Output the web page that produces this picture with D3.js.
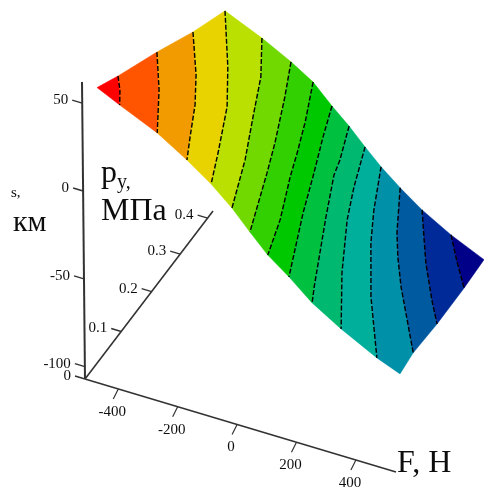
<!DOCTYPE html>
<html>
<head>
<meta charset="utf-8">
<style>
body { margin: 0; background: #fff; }
svg { display: block; }
text { font-family: "Liberation Serif", serif; fill: #111; }
</style>
</head>
<body>
<svg width="484" height="489"></svg>
<script src="https://cdn.jsdelivr.net/npm/d3@7"></script>
<script>
// contour levels of the surface, and where each one runs in (F, p)
var levels = [50, 40, 30, 20, 10, 0, -10, -20, -30, -40, -50, -60, -70, -80];
var contourF = [
  [-498, -459, -425],
  [-495, -396, -304],
  [-490, -370, -302, -245, -205],
  [-500, -339, -246, -171, -127],
  [-354, -257, -187, -117, -58],
  [-243, -176, -103, -63, 3],
  [-164, -95, -52, -23, 32, 62],
  [-86, -44, 10, 52, 128],
  [-23, 22, 35, 94, 186, 207],
  [38, 87, 131, 212, 302],
  [97, 162, 215, 309, 421],
  [169, 247, 294, 355, 494],
  [253, 364, 445, 498],
  [367, 435, 502]
];
var contourP = [
  [0.067, 0.035, 0],
  [0.192, 0.104, 0.003],
  [0.306, 0.205, 0.134, 0.057, 0.002],
  [0.42, 0.285, 0.191, 0.079, 0.004],
  [0.417, 0.323, 0.225, 0.121, 0.004],
  [0.418, 0.331, 0.219, 0.145, 0.002],
  [0.424, 0.326, 0.25, 0.191, 0.088, 0.002],
  [0.419, 0.342, 0.244, 0.157, 0.007],
  [0.422, 0.339, 0.301, 0.202, 0.04, 0.004],
  [0.423, 0.325, 0.247, 0.127, 0.005],
  [0.426, 0.324, 0.249, 0.131, 0.004],
  [0.428, 0.325, 0.272, 0.209, 0.075],
  [0.429, 0.313, 0.236, 0.188],
  [0.427, 0.371, 0.318]
];
// surface corners that are not on a contour, by the band they belong to
var cornerBand = [0, 11, 14];
var cornerF = [-500, 500, 500];
var cornerP = [0, 0, 0.42];
var cornerZ = [56, -54, -88];
var bandColors = ['#ff0000', '#ff5500', '#f29b00', '#e8d200', '#b9e000', '#72d900', '#30d000', '#00c800',
  '#00c040', '#00b870', '#00ae9c', '#0090a8', '#005aa0', '#002a98', '#000088'];

var zTicks = [50, 0, -50, -100];
var pTicks = [0, 0.1, 0.2, 0.3, 0.4];
var fTicks = [-400, -200, 0, 200, 400];

var root = d3.select('svg');
// the picture is a slightly soft scan
root.append('filter').attr('id', 'soft')
  .append('feGaussianBlur').attr('stdDeviation', 0.35);
var svg = root.append('g').attr('filter', 'url(#soft)');

// axes scales, each axis is a slanted line so x and y get a scale
var zY = d3.scaleLinear().domain([-107, 62]).range([379, 82]);
var zX = d3.scaleLinear().domain([-107, 62]).range([85, 82]);
var pX = d3.scalePow().exponent(0.88).domain([0, 0.42]).range([85, 213]);
var pY = d3.scalePow().exponent(0.88).domain([0, 0.42]).range([379, 211]);
var fX = d3.scaleLinear().domain([-512, 535]).range([85, 396]);
var fY = d3.scaleLinear().domain([-512, 535]).range([379, 472]);

// surface projection, bilinear between the four corners of the (F, p) sheet
var u = d3.scaleLinear().domain([-500, 500]).range([0, 1]);
var v = d3.scaleLinear().domain([0, 0.42]).range([0, 1]);
function bl(a, b, c, d, s, t) {
  return a * (1 - s) * (1 - t) + b * s * (1 - t) + c * (1 - s) * t + d * s * t;
}
function project(F, p, z) {
  var s = u(F), t = v(p);
  return [bl(97, 400, 225, 484, s, t), bl(186, 279, 46, 105, s, t) + zY(z) - zY(0)];
}

var contours = levels.map(function(z, i) {
  return contourF[i].map(function(F, j) { return project(F, contourP[i][j], z); });
});

var line = d3.line();
var bands = bandColors.map(function(col, i) {
  var pts = [];
  if (i > 0) pts = pts.concat(contours[i - 1]);
  cornerBand.forEach(function(b, k) {
    if (b === i) pts.push(project(cornerF[k], cornerP[k], cornerZ[k]));
  });
  if (i < contours.length) pts = pts.concat(contours[i].slice().reverse());
  return pts;
});

svg.selectAll('path.band').data(bands).enter().append('path')
  .attr('class', 'band')
  .attr('d', function(d) { return line(d) + 'Z'; })
  .attr('fill', function(d, i) { return bandColors[i]; })
  .attr('stroke', function(d, i) { return bandColors[i]; })
  .attr('stroke-width', 0.5);

svg.selectAll('path.contour').data(contours).enter().append('path')
  .attr('class', 'contour')
  .attr('d', line)
  .attr('fill', 'none')
  .attr('stroke', '#000')
  .attr('stroke-width', 1.4)
  .attr('stroke-dasharray', '5 2');

// axis lines
function axisLine(x1, y1, x2, y2, w) {
  svg.append('line').attr('x1', x1).attr('y1', y1).attr('x2', x2).attr('y2', y2)
    .attr('stroke', '#333').attr('stroke-width', w);
}
axisLine(zX(-107), zY(-107), zX(62), zY(62), 2);
axisLine(pX(0), pY(0), pX(0.42), pY(0.42), 1.6);
axisLine(fX(-512), fY(-512), fX(535), fY(535), 1.6);

function tickLabel(x, y, txt, anchor) {
  svg.append('text').attr('x', x).attr('y', y).attr('text-anchor', anchor)
    .attr('dominant-baseline', 'central').attr('font-size', 15).text(txt);
}
zTicks.forEach(function(t) {
  axisLine(zX(t), zY(t), zX(t) - 10, zY(t) - 3, 1.4);
  tickLabel(zX(t) - 14, zY(t) - 4, t, 'end');
});
pTicks.forEach(function(t) {
  axisLine(pX(t), pY(t), pX(t) - 10, pY(t) - 3, 1.4);
  tickLabel(pX(t) - 14, pY(t) - 4, t, 'end');
});
fTicks.forEach(function(t) {
  axisLine(fX(t), fY(t), fX(t) - 5, fY(t) + 10, 1.2);
  tickLabel(fX(t) - 6, fY(t) + 22, t, 'middle');
});

// axis titles
svg.append('text').attr('x', 397).attr('y', 472).attr('font-size', 32).text('F, Н');
svg.append('text').attr('x', 101).attr('y', 220).attr('font-size', 32).text('МПа');
var py = svg.append('text').attr('x', 101).attr('y', 182).attr('font-size', 32);
py.append('tspan').text('p');
py.append('tspan').attr('font-size', 20).attr('dy', 6).text('y,');
svg.append('text').attr('x', 13).attr('y', 231).attr('font-size', 30).text('км');
svg.append('text').attr('x', 11).attr('y', 197).attr('font-size', 15).text('s,');
</script>
</body>
</html>
